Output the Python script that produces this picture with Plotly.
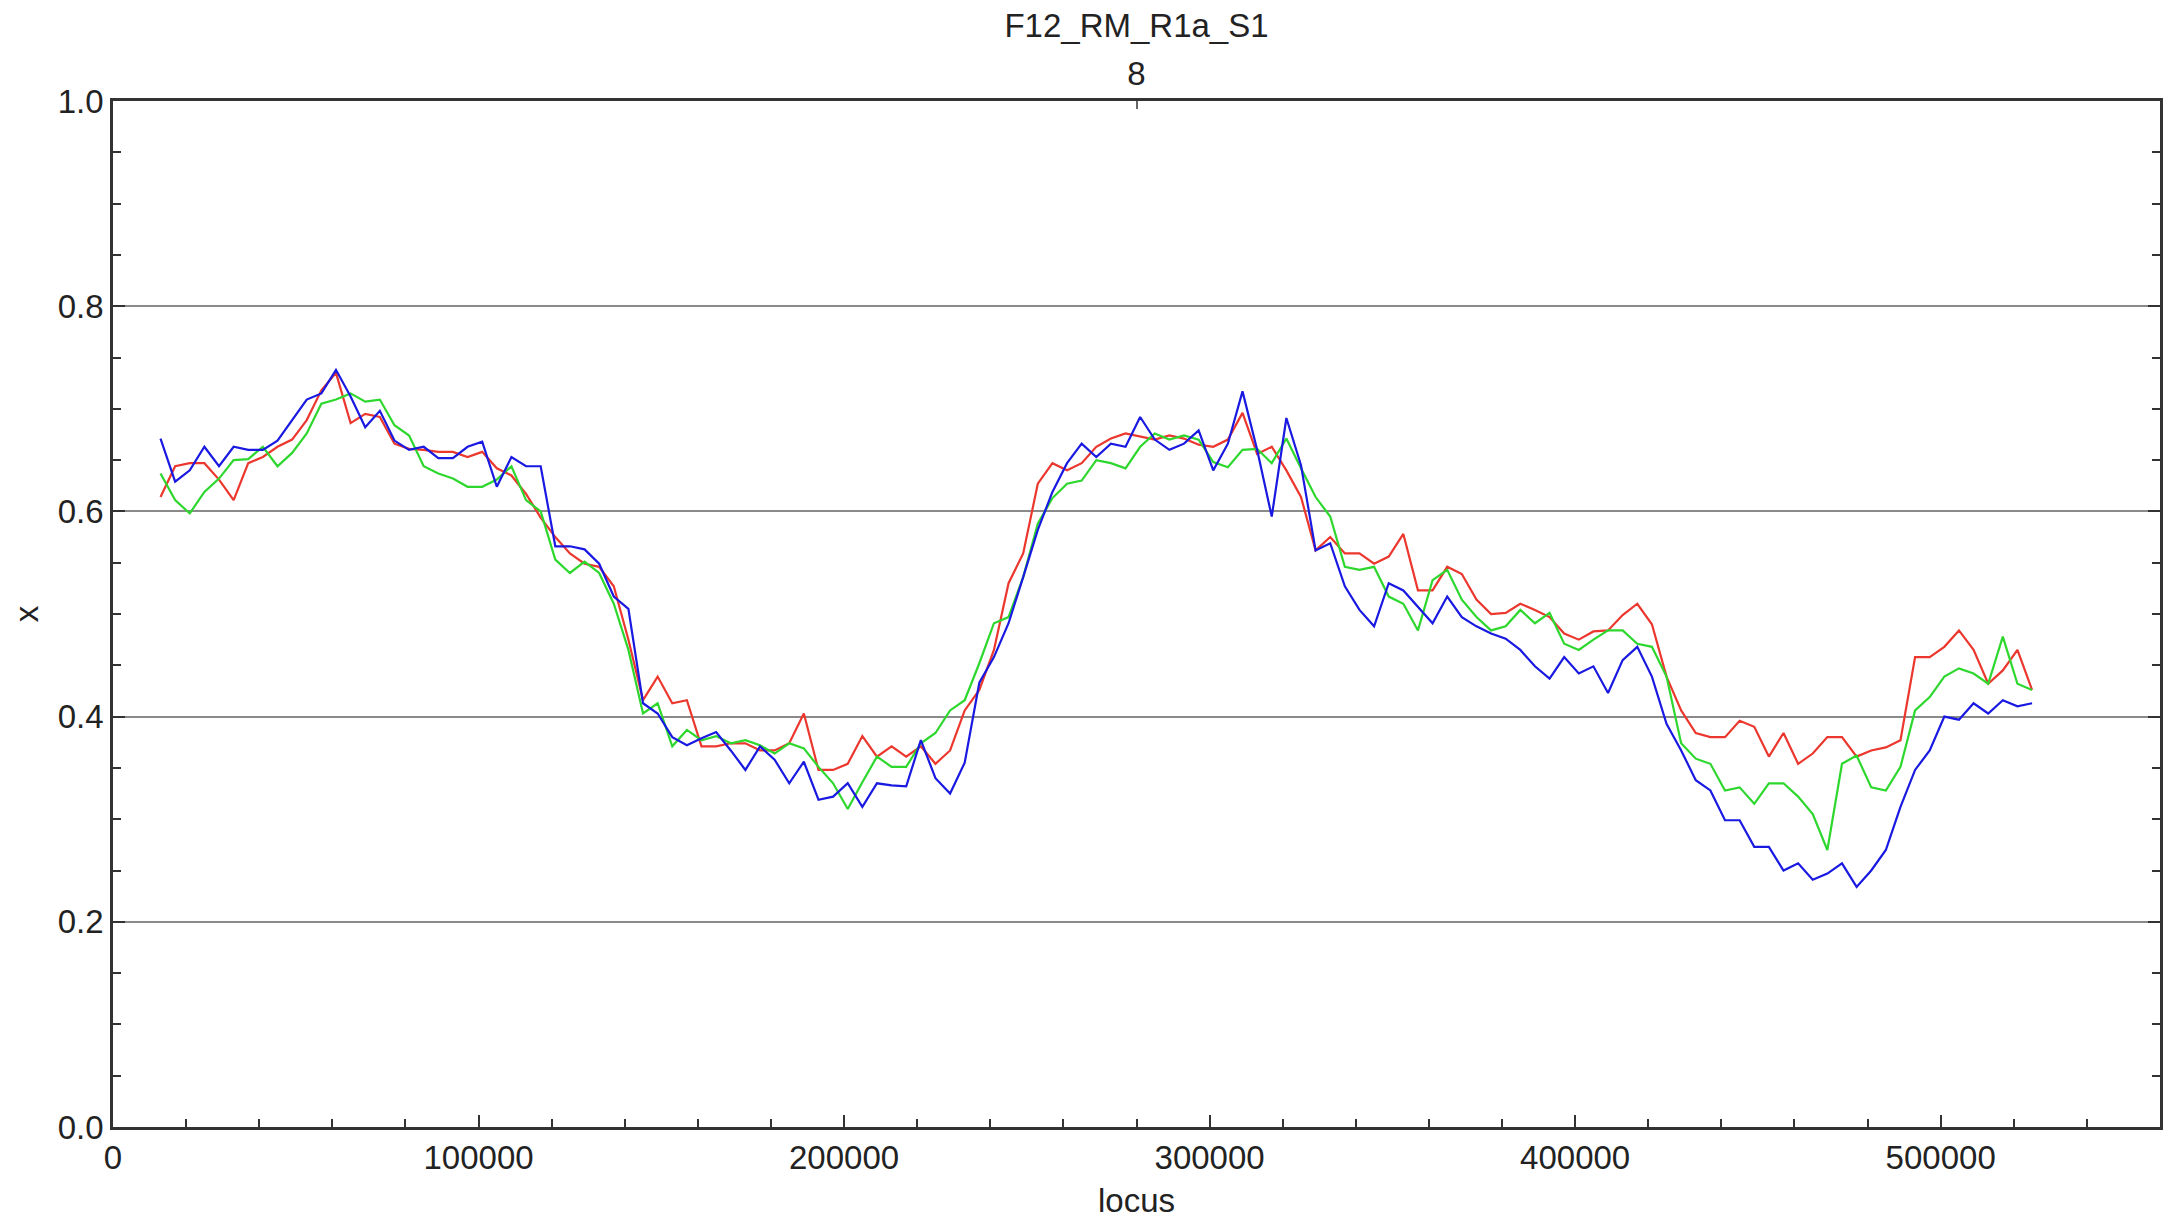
import plotly.graph_objects as go

locus = list(range(13000, 525001, 4000))

red = [
    0.614, 0.644, 0.647, 0.647, 0.631, 0.611, 0.647, 0.653, 0.663, 0.670,
    0.689, 0.718, 0.735, 0.686, 0.695, 0.692, 0.666, 0.661, 0.660, 0.658,
    0.658, 0.653, 0.658, 0.642, 0.635, 0.617, 0.594, 0.575, 0.559, 0.549,
    0.546, 0.527, 0.475, 0.416, 0.439, 0.413, 0.416, 0.371, 0.371, 0.374,
    0.374, 0.367, 0.367, 0.374, 0.403, 0.348, 0.348, 0.354, 0.381, 0.361,
    0.371, 0.361, 0.371, 0.354, 0.367, 0.406, 0.426, 0.465, 0.530, 0.559,
    0.627, 0.647, 0.640, 0.647, 0.663, 0.671, 0.676, 0.673, 0.670, 0.674,
    0.671, 0.665, 0.663, 0.670, 0.696, 0.656, 0.663, 0.640, 0.614, 0.562,
    0.575, 0.559, 0.559, 0.549, 0.556, 0.578, 0.523, 0.523, 0.546, 0.539,
    0.514, 0.500, 0.501, 0.510, 0.504, 0.497, 0.481, 0.475, 0.483, 0.484,
    0.499, 0.510, 0.490, 0.439, 0.406, 0.384, 0.380, 0.380, 0.396, 0.390,
    0.361, 0.384, 0.354, 0.364, 0.380, 0.380, 0.361, 0.367, 0.370, 0.377,
    0.458, 0.458, 0.468, 0.484, 0.465, 0.432, 0.445, 0.465, 0.426,
]

green = [
    0.637, 0.611, 0.598, 0.619, 0.632, 0.650, 0.651, 0.663, 0.644, 0.657,
    0.676, 0.705, 0.709, 0.715, 0.707, 0.709, 0.684, 0.674, 0.644, 0.637,
    0.632, 0.624, 0.624, 0.631, 0.644, 0.611, 0.600, 0.553, 0.540, 0.551,
    0.540, 0.510, 0.465, 0.403, 0.413, 0.371, 0.387, 0.377, 0.381, 0.374,
    0.377, 0.372, 0.364, 0.374, 0.369, 0.351, 0.335, 0.310, 0.336, 0.361,
    0.351, 0.351, 0.374, 0.384, 0.406, 0.416, 0.452, 0.491, 0.497, 0.536,
    0.588, 0.613, 0.627, 0.630, 0.650, 0.647, 0.642, 0.663, 0.676, 0.670,
    0.674, 0.670, 0.648, 0.643, 0.660, 0.661, 0.647, 0.671, 0.642, 0.614,
    0.595, 0.546, 0.543, 0.546, 0.517, 0.510, 0.484, 0.533, 0.543, 0.514,
    0.497, 0.484, 0.488, 0.504, 0.491, 0.501, 0.471, 0.465, 0.475, 0.484,
    0.484, 0.471, 0.468, 0.439, 0.374, 0.359, 0.354, 0.328, 0.331, 0.315,
    0.335, 0.335, 0.322, 0.305, 0.270, 0.354, 0.362, 0.331, 0.328, 0.351,
    0.406, 0.419, 0.439, 0.447, 0.442, 0.432, 0.478, 0.432, 0.426,
]

blue = [
    0.671, 0.629, 0.640, 0.663, 0.644, 0.663, 0.660, 0.660, 0.669, 0.689,
    0.709, 0.715, 0.738, 0.712, 0.682, 0.698, 0.669, 0.660, 0.663, 0.652,
    0.652, 0.663, 0.668, 0.624, 0.653, 0.644, 0.644, 0.566, 0.566, 0.563,
    0.549, 0.517, 0.505, 0.413, 0.403, 0.380, 0.372, 0.379, 0.385, 0.367,
    0.348, 0.371, 0.358, 0.335, 0.356, 0.319, 0.322, 0.335, 0.312, 0.335,
    0.333, 0.332, 0.377, 0.340, 0.325, 0.355, 0.433, 0.458, 0.491, 0.536,
    0.582, 0.619, 0.647, 0.666, 0.653, 0.666, 0.663, 0.692, 0.670, 0.660,
    0.666, 0.679, 0.640, 0.666, 0.717, 0.660, 0.595, 0.691, 0.645, 0.562,
    0.569, 0.527, 0.504, 0.488, 0.530, 0.523, 0.507, 0.491, 0.517, 0.497,
    0.488, 0.481, 0.476, 0.465, 0.449, 0.437, 0.458, 0.442, 0.449, 0.423,
    0.455, 0.468, 0.439, 0.393, 0.367, 0.338, 0.328, 0.299, 0.299, 0.273,
    0.273, 0.250, 0.257, 0.241, 0.247, 0.257, 0.234, 0.250, 0.270, 0.312,
    0.348, 0.367, 0.400, 0.397, 0.413, 0.403, 0.416, 0.410, 0.413,
]

title_text = "F12_RM_R1a_S1"
top_tick_vals = [280000]
top_tick_text = ["8"]

FONT = "Liberation Sans, Arial, Helvetica, sans-serif"
FS = 33

fig = go.Figure()
for vals, col in [(red, "rgb(235,55,45)"), (green, "rgb(45,215,45)"), (blue, "rgb(25,25,225)")]:
    fig.add_trace(go.Scatter(x=locus, y=vals, mode="lines",
                             line=dict(color=col, width=2.2), showlegend=False))

# invisible trace to anchor the top axis
fig.add_trace(go.Scatter(x=top_tick_vals, y=[None], xaxis="x2", mode="lines",
                         showlegend=False, hoverinfo="skip"))

fig.update_layout(
    width=2166, height=1220,
    margin=dict(l=113, r=3, t=101, b=93),
    paper_bgcolor="white", plot_bgcolor="white",
    font=dict(family=FONT, size=FS, color="#222"),
    title=dict(text=title_text, x=0.5, xanchor="center", xref="paper",
               y=1 - 25 / 1220, yanchor="middle", yref="container",
               font=dict(family=FONT, size=FS, color="#222")),
    xaxis=dict(
        range=[0, 560000], dtick=100000, tick0=0,
        tickformat="d", separatethousands=False,
        showgrid=False, zeroline=False,
        showline=True, linecolor="#333", linewidth=2.5, mirror=True,
        ticks="inside", ticklen=12, tickwidth=2, tickcolor="#333",
        minor=dict(dtick=20000, ticks="inside", ticklen=8, tickwidth=2, tickcolor="#333", showgrid=False),
        title=dict(text="locus", standoff=14, font=dict(size=FS)),
        tickfont=dict(size=FS),
    ),
    xaxis2=dict(
        overlaying="x", side="top", range=[0, 560000],
        tickvals=top_tick_vals, ticktext=top_tick_text,
        showgrid=False, zeroline=False, showline=False,
        ticks="inside", ticklen=8, tickwidth=2, tickcolor="#666",
        ticklabelstandoff=8,
        tickfont=dict(size=FS),
    ),
    yaxis=dict(
        range=[0, 1], dtick=0.2, tick0=0, tickformat=".1f",
        showgrid=True, gridcolor="#8a8a8a", gridwidth=2,
        zeroline=False,
        showline=True, linecolor="#333", linewidth=2.5, mirror="ticks",
        ticks="inside", ticklen=12, tickwidth=2, tickcolor="#333",
        minor=dict(dtick=0.05, ticks="inside", ticklen=8, tickwidth=2, tickcolor="#333", showgrid=False),
        title=dict(text="x", standoff=10, font=dict(size=FS)),
        tickfont=dict(size=FS),
    ),
)

fig.write_html("out.html")
